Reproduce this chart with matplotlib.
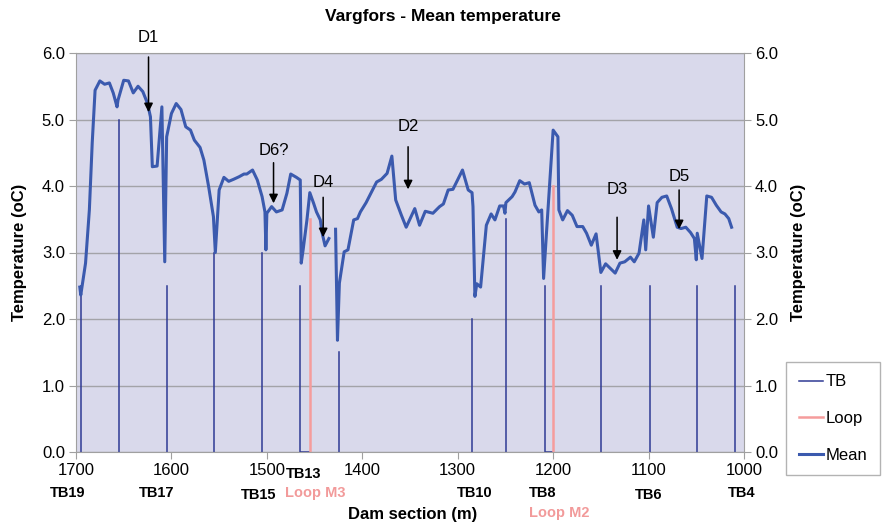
import numpy as np
import matplotlib
matplotlib.use('Agg')
import matplotlib.pyplot as plt

plt.rcParams['font.family'] = ['Liberation Sans', 'DejaVu Sans']

# mean temperature along the dam (gap = missing data)
mean_x = [1696, 1695, 1690, 1686, 1683, 1680, 1675, 1670, 1665, 1661, 1657, 1656,
          1650, 1645, 1640, 1635, 1630, 1625, 1622, 1620, 1615, 1610, 1607, 1605,
          1600, 1595, 1590, 1585, 1580, 1576, 1570, 1566, 1561, 1556, 1554, 1550,
          1545, 1540, 1535, 1529, 1524, 1521, 1515, 1510, 1505, 1502, 1501, 1500,
          1495, 1490, 1484, 1479, 1475, 1469, 1465, 1464, 1462, 1458, 1455, 1451,
          1448, 1444, 1442, 1439, 1435, np.nan, 1428, 1426, 1424, 1419, 1415, 1409,
          1405, 1402, 1396, 1391, 1385, 1380, 1374, 1369, 1365, 1359, 1354, 1345,
          1340, 1334, 1326, 1319, 1315, 1310, 1305, 1295, 1289, 1285, 1284, 1282,
          1280, 1276, 1270, 1265, 1261, 1256, 1252, 1250.5, 1249.5, 1243, 1240, 1235,
          1230, 1225, 1219, 1215, 1212, 1210, 1207, 1200, 1195, 1194, 1190, 1185,
          1180, 1175, 1169, 1165, 1160, 1155, 1150, 1145, 1140, 1135, 1130, 1125,
          1119, 1115, 1110, 1105, 1103, 1100, 1095, 1091, 1086, 1081, 1076, 1070,
          1066, 1061, 1056, 1052, 1050, 1049, 1044, 1039, 1034, 1029, 1024, 1020,
          1016, 1013]
mean_t = [2.48, 2.36, 2.84, 3.64, 4.65, 5.44, 5.58, 5.53, 5.55, 5.40, 5.19, 5.29,
          5.59, 5.58, 5.40, 5.50, 5.42, 5.24, 5.04, 4.29, 4.30, 5.19, 2.86, 4.74,
          5.09, 5.24, 5.15, 4.89, 4.84, 4.69, 4.58, 4.39, 3.99, 3.54, 3.00, 3.94,
          4.13, 4.07, 4.10, 4.14, 4.18, 4.18, 4.24, 4.09, 3.84, 3.61, 3.04, 3.59,
          3.69, 3.61, 3.64, 3.89, 4.18, 4.13, 4.09, 2.84, 3.04, 3.49, 3.90, 3.74,
          3.61, 3.49, 3.29, 3.10, 3.21, np.nan, 3.35, 1.68, 2.54, 3.01, 3.04, 3.49,
          3.51, 3.61, 3.75, 3.89, 4.06, 4.10, 4.19, 4.45, 3.79, 3.56, 3.38, 3.66,
          3.41, 3.62, 3.59, 3.69, 3.73, 3.94, 3.95, 4.24, 3.94, 3.90, 3.69, 2.34,
          2.53, 2.48, 3.41, 3.58, 3.49, 3.70, 3.70, 3.59, 3.75, 3.84, 3.91, 4.08,
          4.03, 4.05, 3.71, 3.61, 3.64, 2.61, 3.29, 4.84, 4.74, 3.64, 3.49, 3.63,
          3.56, 3.39, 3.39, 3.29, 3.11, 3.28, 2.70, 2.83, 2.76, 2.69, 2.84, 2.86,
          2.93, 2.86, 2.99, 3.49, 3.04, 3.70, 3.23, 3.75, 3.83, 3.85, 3.66, 3.38,
          3.36, 3.38, 3.30, 3.21, 2.89, 3.29, 2.91, 3.85, 3.83, 3.71, 3.61, 3.58,
          3.51, 3.38]

# thermometer boreholes and loops
tb_x = [1695, 1655, 1605, 1555, 1505, 1465, 1424, 1285, 1249, 1209, 1150, 1099, 1049, 1009]
tb_h = [2.5, 5.0, 2.5, 3.0, 3.0, 2.5, 1.5, 2.0, 3.5, 2.5, 2.5, 2.5, 2.5, 2.5]
loop_x = [1455, 1200]
loop_h = [3.5, 4.0]
loop_from_tb = [1465, 1209]

# bottom labels: text, x, pixels below axis, colour
bottom_labels = [('TB19', 1709, 41, 'black'), ('TB17', 1615, 41, 'black'),
                 ('TB15', 1509, 43, 'black'), ('TB13', 1461, 22, 'black'),
                 ('Loop M3', 1449, 41, '#f29a9a'), ('TB10', 1282, 41, 'black'),
                 ('TB8', 1211, 41, 'black'), ('Loop M2', 1194, 61, '#f29a9a'),
                 ('TB6', 1100, 43, 'black'), ('TB4', 1002, 41, 'black')]

# annotations: label, x, tail y, tip y, text y
marks = [('D1', 1624, 5.94, 5.11, 6.24), ('D6?', 1493, 4.35, 3.74, 4.54),
         ('D4', 1441, 3.83, 3.23, 4.05), ('D2', 1352, 4.59, 3.95, 4.90),
         ('D3', 1133, 3.53, 2.89, 3.95), ('D5', 1068, 3.94, 3.35, 4.15)]

mean_col = '#3b5aae'
tb_col = '#2f3a94'
loop_col = '#f59c9c'

fig = plt.figure(figsize=(8.83, 5.25), dpi=100)
ax = fig.add_axes([76/883, 73/525, 668/883, 399/525])
ax.set_facecolor('#d9d9eb')
ax.set_xlim(1700, 1000)
ax.set_ylim(0, 6)
ax.set_yticks(np.arange(0, 6.1, 1.0))
ax.set_yticklabels([f'{v:.1f}' for v in np.arange(0, 6.1, 1.0)])
ax.set_xticks(range(1700, 999, -100))
ax.grid(axis='y', color='#a3a3a8', lw=1)
ax.set_axisbelow(True)
for s in ax.spines.values():
    s.set_color('#a0a0a0')
ax.tick_params(labelsize=12, length=5, color='#a0a0a0', pad=3)

# TB lines
first = True
for x, h in zip(tb_x, tb_h):
    xs, ys = [x, x], [0, h]
    if x in loop_from_tb:
        lx = loop_x[loop_from_tb.index(x)]
        xs, ys = [lx, x, x], [0, 0, h]
    ax.plot(xs, ys, color=tb_col, lw=1.1, label='TB' if first else None)
    first = False
for i, (x, h) in enumerate(zip(loop_x, loop_h)):
    ax.plot([x, x], [0, h], color=loop_col, lw=1.8, label='Loop' if i == 0 else None)

ax.plot(mean_x, mean_t, color=mean_col, lw=2.2, label='Mean')

for lab, x, y0, y1, ty in marks:
    ax.annotate('', xy=(x, y1), xytext=(x, y0),
                arrowprops=dict(arrowstyle='-|>', color='black', lw=1.1,
                                mutation_scale=13, shrinkA=0, shrinkB=0))
    ax.text(x, ty, lab, ha='center', va='center', fontsize=12)

for txt, x, dy, c in bottom_labels:
    ax.annotate(txt, xy=(x, 0), xycoords=ax.get_xaxis_transform(),
                xytext=(0, -dy * 0.72), textcoords='offset points',
                ha='center', va='center', fontsize=10.5, fontweight='bold',
                color=c, annotation_clip=False)

ax2 = ax.twinx()
ax2.set_ylim(0, 6)
ax2.set_yticks(np.arange(0, 6.1, 1.0))
ax2.set_yticklabels([f'{v:.1f}' for v in np.arange(0, 6.1, 1.0)])
ax2.tick_params(labelsize=12, length=5, color='#a0a0a0', pad=3)
for s in ax2.spines.values():
    s.set_visible(False)

fig.text(443/883, 1 - 17/525, 'Vargfors - Mean temperature', ha='center', va='center',
         fontsize=12.5, fontweight='bold')
fig.text(413/883, 1 - 515/525, 'Dam section (m)', ha='center', va='center',
         fontsize=12, fontweight='bold')
fig.text(20/883, 1 - 252/525, 'Temperature (oC)', ha='center', va='center',
         rotation=90, fontsize=12, fontweight='bold')
fig.text(798/883, 1 - 252/525, 'Temperature (oC)', ha='center', va='center',
         rotation=90, fontsize=12, fontweight='bold')

h, l = ax.get_legend_handles_labels()
leg = fig.legend(h, l, loc='upper left', bbox_to_anchor=(786/883, 1 - 362/525),
                 fontsize=12, frameon=True, fancybox=False, labelspacing=1.3,
                 handlelength=1.45, handletextpad=0.2, borderpad=0.75,
                 borderaxespad=0)
leg.get_frame().set_edgecolor('#a0a0a0')
leg.get_frame().set_linewidth(1)

fig.savefig('out.png', dpi=100)
